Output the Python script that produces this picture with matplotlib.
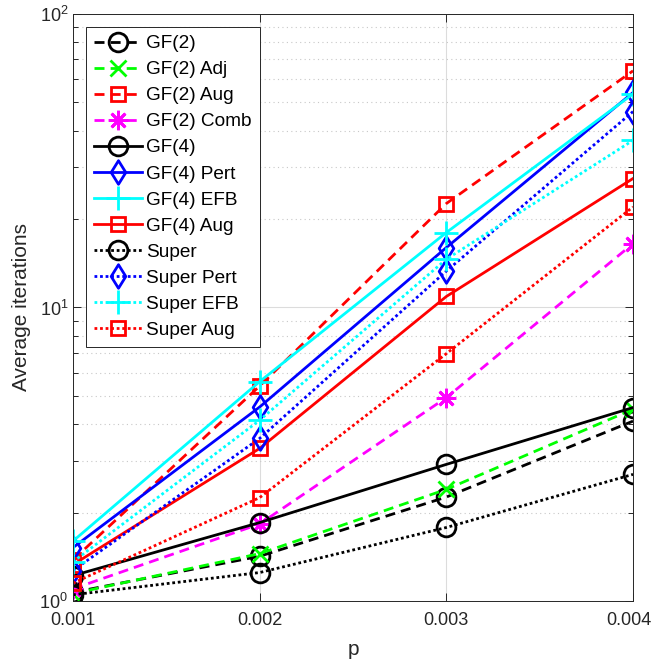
import numpy as np
import matplotlib
matplotlib.use('Agg')
import matplotlib.pyplot as plt
import matplotlib.transforms as mtransforms
from matplotlib.path import Path
from matplotlib.ticker import LogLocator, NullFormatter

plt.rcParams['font.family'] = ['Liberation Sans', 'DejaVu Sans']

p = [0.001, 0.002, 0.003, 0.004]

# average iterations
gf2 = [1.07, 1.42, 2.26, 4.1]
gf2_adj = [1.06, 1.45, 2.40, 4.5]
gf2_aug = [1.38, 5.40, 22.6, 64.0]
gf2_comb = [1.10, 1.83, 4.93, 16.5]
gf4 = [1.22, 1.85, 2.92, 4.56]
gf4_pert = [1.52, 4.58, 16.0, 54.0]
gf4_efb = [1.60, 5.59, 18.0, 53.4]
gf4_aug = [1.33, 3.31, 10.9, 27.5]
sup = [1.05, 1.25, 1.78, 2.70]
sup_pert = [1.27, 3.58, 13.3, 46.5]
sup_efb = [1.36, 4.13, 14.6, 37.1]
sup_aug = [1.15, 2.25, 6.96, 22.0]

# matlab-like markers
diamond = Path([(0, 1), (0.62, 0), (0, -1), (-0.62, 0), (0, 1)],
               [Path.MOVETO, Path.LINETO, Path.LINETO, Path.LINETO, Path.CLOSEPOLY])
asterisk = (8, 2, 0)

series = [
    ('GF(2)', gf2, '#000000', '--', 'o'),
    ('GF(2) Adj', gf2_adj, '#00ff00', '--', 'x'),
    ('GF(2) Aug', gf2_aug, '#ff0000', '--', 's'),
    ('GF(2) Comb', gf2_comb, '#ff00ff', '--', '*'),
    ('GF(4)', gf4, '#000000', '-', 'o'),
    ('GF(4) Pert', gf4_pert, '#0000ff', '-', 'd'),
    ('GF(4) EFB', gf4_efb, '#00ffff', '-', '+'),
    ('GF(4) Aug', gf4_aug, '#ff0000', '-', 's'),
    ('Super', sup, '#000000', ':', 'o'),
    ('Super Pert', sup_pert, '#0000ff', ':', 'd'),
    ('Super EFB', sup_efb, '#00ffff', ':', '+'),
    ('Super Aug', sup_aug, '#ff0000', ':', 's'),
]

marker_map = {'o': ('o', 13.5), 's': ('s', 10), 'd': (diamond, 17),
              '+': ('+', 17), 'x': ('x', 12), '*': (asterisk, 14)}
dash_map = {'--': (0, (3.6, 2.2)), '-': '-', ':': (0, (1.0, 1.0))}

fig = plt.figure(figsize=(6.54, 6.64), dpi=100)
ax = fig.add_axes([0.1116, 0.0949, 0.8563, 0.8841])

for label, vals, col, ls, mk in series:
    m, size = marker_map[mk]
    ax.plot(p, vals, color=col, linestyle=dash_map[ls], linewidth=2,
            dash_capstyle='butt', marker=m, markersize=size,
            markerfacecolor='none', markeredgecolor=col, markeredgewidth=2,
            label=label)

ax.set_yscale('log')
ax.set_xlim(0.001, 0.004)
ax.set_ylim(1, 100)
ax.set_xticks(p)
ax.set_xticklabels(['0.001', '0.002', '0.003', '0.004'])
ax.yaxis.set_minor_locator(LogLocator(base=10, subs=np.arange(2, 10)))
ax.yaxis.set_minor_formatter(NullFormatter())

ax.grid(True, which='major', color='#dcdcdc', linewidth=0.8, linestyle='-')
ax.grid(True, which='minor', axis='y', color='#c8c8c8', linewidth=0.8, linestyle=(0, (1, 3)))
ax.set_axisbelow(True)
ax.tick_params(which='both', direction='in', top=True, right=True, labelsize=13,
               colors='#262626')
ax.tick_params(which='major', length=6, width=0.7)
ax.tick_params(which='minor', length=3.5, width=0.7)
ax.tick_params(axis='x', which='major', pad=8)
for s in ax.spines.values():
    s.set_color('#262626')
    s.set_linewidth(0.7)

# keep the last x label inside the figure
last = ax.get_xticklabels()[-1]
last.set_transform(last.get_transform() +
                   mtransforms.ScaledTranslation(-4 / 100, 0, fig.dpi_scale_trans))

ax.set_xlabel('p', fontsize=15, color='#262626', labelpad=8)
ax.set_ylabel('Average iterations', fontsize=15, color='#262626', labelpad=6)

leg = ax.legend(loc='upper left', bbox_to_anchor=(0.0232, 0.978), fontsize=13.7,
                handlelength=2.5, handletextpad=0.25, labelspacing=0.46,
                borderpad=0.42, borderaxespad=0.0, fancybox=False, framealpha=1,
                edgecolor='#262626')
leg.get_frame().set_linewidth(0.7)

fig.savefig('out.png', dpi=100)
